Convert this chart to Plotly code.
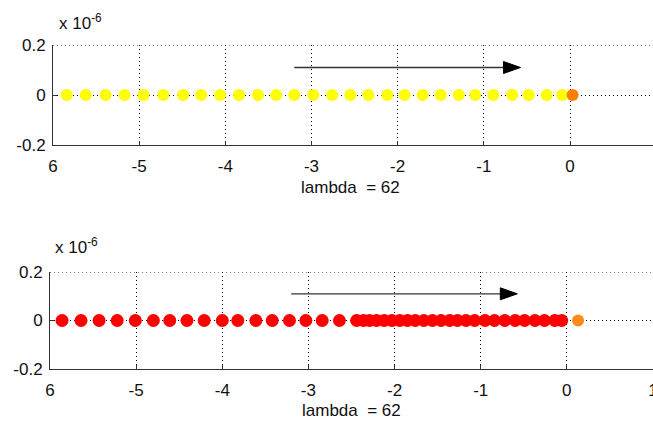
import plotly.graph_objects as go

# ---- data ----
top_yellow_x = [-5.84, -5.62, -5.39, -5.17, -4.95, -4.72, -4.49, -4.28, -4.06, -3.84,
                -3.62, -3.41, -3.20, -2.98, -2.76, -2.55, -2.34, -2.12, -1.92, -1.71,
                -1.50, -1.29, -1.10, -0.89, -0.67, -0.48, -0.27, -0.09]
top_orange_x = [0.03]

bot_red_x = [-5.86, -5.64, -5.43, -5.22, -5.01, -4.80, -4.61, -4.41, -4.21, -4.00,
             -3.82, -3.61, -3.42, -3.22, -3.03, -2.84, -2.64,
             -2.44, -2.36, -2.29, -2.21, -2.12, -2.03, -1.94, -1.85, -1.76, -1.66,
             -1.56, -1.46, -1.36, -1.27, -1.17, -1.07, -0.95, -0.84, -0.72, -0.60,
             -0.49, -0.37, -0.26, -0.14, -0.06]
bot_orange_x = [0.13]

x_tick_vals = [-6, -5, -4, -3, -2, -1, 0, 1]
x_tick_text = ["6", "-5", "-4", "-3", "-2", "-1", "0", "1"]
y_tick_vals = [-0.2e-6, 0.0, 0.2e-6]
y_tick_text = ["-0.2", "0", "0.2"]
x_label = "lambda\u00a0 = 62"
exp_label = "x 10<sup>-6</sup>"
arrow_start, arrow_tip, arrow_y = -3.2, -0.575, 0.11e-6
y_top = 0.2e-6

W, H = 653, 426
FONT = "Liberation Sans, Arial, sans-serif"
TXT = "#111111"

fig = go.Figure()


def pts(x, color, size, xa, ya):
    fig.add_trace(go.Scatter(
        x=x, y=[0.0] * len(x), mode="markers",
        marker=dict(color=color, size=size, line=dict(width=0)),
        xaxis=xa, yaxis=ya, showlegend=False, hoverinfo="skip"))


pts(top_yellow_x, "#FFFF00", 12, "x", "y")
pts(top_orange_x, "#FF7F00", 12, "x", "y")
pts(bot_red_x, "#FF0000", 13, "x2", "y2")
pts(bot_orange_x, "#FF8C1A", 12, "x2", "y2")

common_x = dict(
    tickmode="array", tickvals=x_tick_vals, ticktext=x_tick_text,
    showline=True, linecolor="#333333", linewidth=1,
    ticks="inside", ticklen=4, tickcolor="#333333",
    showgrid=True, gridcolor="#000000", gridwidth=1, griddash="1px,3px",
    zeroline=False, tickfont=dict(family=FONT, size=17, color=TXT),
    ticklabelstandoff=6, ticklabeloverflow="allow",
    automargin=False, fixedrange=True,
)
common_y = dict(
    tickmode="array", tickvals=y_tick_vals, ticktext=y_tick_text,
    range=[-0.2e-6, 0.2e-6],
    showline=True, linecolor="#333333", linewidth=1,
    ticks="inside", ticklen=4, tickcolor="#333333",
    showgrid=True, gridcolor="#000000", gridwidth=1, griddash="1px,3px",
    zeroline=False, tickfont=dict(family=FONT, size=17, color=TXT),
    ticklabelstandoff=3,
    automargin=False, fixedrange=True,
)

fig.update_layout(
    width=W, height=H,
    margin=dict(l=0, r=0, t=0, b=0),
    paper_bgcolor="white", plot_bgcolor="white",
    xaxis=dict(common_x, domain=[53 / W, 1], range=[-6, 0.963], anchor="y"),
    yaxis=dict(common_y, domain=[1 - 145 / H, 1 - 45 / H], anchor="x"),
    xaxis2=dict(common_x, domain=[50 / W, 1], range=[-6, 1.0001], anchor="y2"),
    yaxis2=dict(common_y, domain=[1 - 369 / H, 1 - 272 / H], anchor="x2"),
)

for xr, yr in (("x", "y"), ("x2", "y2")):
    # dotted grid line along the top edge (y = 0.2)
    fig.add_shape(type="line", xref=xr + " domain", yref=yr,
                  x0=0, x1=1, y0=y_top, y1=y_top, layer="below",
                  line=dict(color="#000000", width=1, dash="1px,3px"))
    # arrow
    fig.add_shape(type="line", xref=xr, yref=yr,
                  x0=arrow_start, x1=arrow_tip - 16 / 86.17, y0=arrow_y, y1=arrow_y,
                  line=dict(color="#333333", width=1.3))
    fig.add_shape(type="path", xref=xr, yref=yr,
                  xsizemode="pixel", ysizemode="pixel",
                  xanchor=arrow_tip, yanchor=arrow_y,
                  path="M-17,-6 L0,0 L-17,6 Z",
                  fillcolor="#000000", line=dict(color="#000000", width=1))

# labels
for (xp, yp) in ((57, 22), (53, 246)):
    fig.add_annotation(text=exp_label, xref="paper", yref="paper",
                       x=xp / W, y=1 - yp / H, xanchor="left", yanchor="middle",
                       showarrow=False, font=dict(family=FONT, size=17, color=TXT))
for (xp, yp) in ((350, 187), (351, 410)):
    fig.add_annotation(text=x_label, xref="paper", yref="paper",
                       x=xp / W, y=1 - yp / H, xanchor="center", yanchor="middle",
                       showarrow=False, font=dict(family=FONT, size=17, color=TXT))

fig.write_html("out.html")
